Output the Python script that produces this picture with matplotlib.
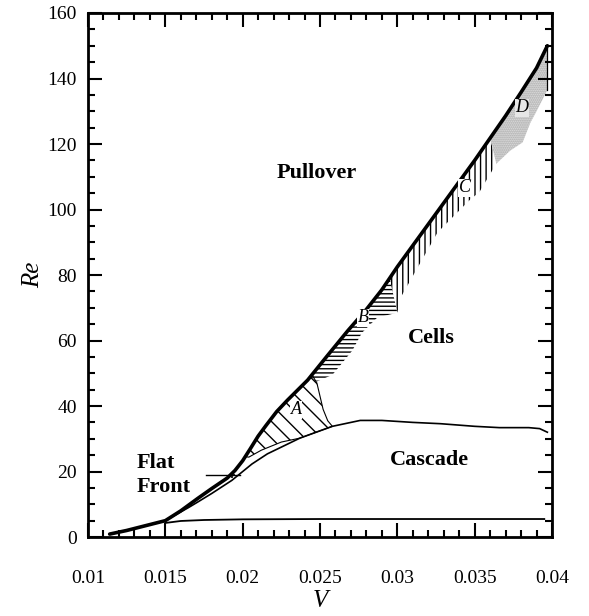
import numpy as np
import matplotlib
matplotlib.use('Agg')
from matplotlib import pyplot as plt
from matplotlib.patches import Polygon
from matplotlib.ticker import MultipleLocator

plt.rcParams['font.family'] = 'Liberation Serif'
plt.rcParams['hatch.linewidth'] = 1.0

# pullover boundary (thick line)
v_up = [0.0114, 0.0125, 0.0135, 0.0150, 0.0160, 0.0171, 0.0180, 0.0190, 0.0195, 0.0200,
        0.0205, 0.0210, 0.0215, 0.0222, 0.0229, 0.0242, 0.0255, 0.0268, 0.0280, 0.0290,
        0.0300, 0.0310, 0.0320, 0.0330, 0.0340, 0.0350, 0.0360, 0.0370, 0.0380, 0.0390,
        0.0397]
re_up = [0.9, 2.0, 3.2, 5.0, 8.0, 11.8, 14.8, 18.0, 20.3, 23.3,
         27.0, 30.8, 34.0, 38.3, 41.8, 47.9, 55.5, 63.0, 69.5, 75.5,
         82.5, 89.0, 95.5, 102.0, 108.5, 115.0, 121.8, 128.6, 135.8, 143.2,
         150.0]

# cascade / cells boundary
v_casc = [0.0150, 0.0165, 0.0171, 0.0180, 0.0193, 0.0206, 0.0216, 0.0237, 0.0258, 0.0276,
          0.0290, 0.0310, 0.0328, 0.0350, 0.0366, 0.0385, 0.0392, 0.0397]
re_casc = [5.0, 9.0, 10.7, 13.3, 17.3, 22.3, 25.4, 30.2, 33.8, 35.6,
           35.6, 35.0, 34.6, 33.8, 33.4, 33.4, 33.1, 32.0]

# lower flat boundary
v_low = [0.0150, 0.0160, 0.0175, 0.0200, 0.0250, 0.0300, 0.0350, 0.0395]
re_low = [4.3, 4.9, 5.2, 5.4, 5.5, 5.5, 5.5, 5.5]

# regions A-D (outline points)
v_A = [0.0202, 0.0205, 0.0210, 0.0215, 0.0222, 0.0229, 0.0245, 0.0248, 0.0250, 0.0252,
       0.0255, 0.0258, 0.0237, 0.0225, 0.0212, 0.0204]
re_A = [24.5, 27.0, 30.8, 34.0, 38.3, 41.8, 49.4, 47.0, 43.0, 39.0,
        35.5, 33.8, 30.2, 29.0, 26.5, 24.4]

v_B = [0.0243, 0.0255, 0.0268, 0.0280, 0.0290, 0.0295, 0.0300, 0.0287, 0.0277, 0.0271,
       0.0258, 0.0248]
re_B = [48.4, 55.5, 63.0, 69.5, 75.5, 79.0, 68.5, 67.0, 62.3, 57.0,
        49.5, 47.5]

v_C = [0.0295, 0.0300, 0.0310, 0.0320, 0.0330, 0.0340, 0.0350, 0.0360, 0.0364, 0.0353,
       0.0347, 0.0326, 0.0302, 0.0300]
re_C = [79.0, 82.5, 89.0, 95.5, 102.0, 108.5, 115.0, 121.8, 114.0, 105.3,
        103.0, 93.0, 73.0, 68.5]

v_D = [0.0360, 0.0370, 0.0380, 0.0390, 0.0397, 0.0397, 0.0390, 0.0386, 0.0381, 0.0373,
       0.0364]
re_D = [121.8, 128.6, 135.8, 143.2, 150.0, 136.5, 130.0, 126.5, 120.5, 118.0,
        114.0]

fig = plt.figure(figsize=(5.89, 6.16), dpi=100)
ax = fig.add_axes([0.1494, 0.1282, 0.7878, 0.8507])

ax.add_patch(Polygon(np.column_stack([v_A, re_A]), closed=True, facecolor='none',
                     edgecolor='black', hatch='\\\\', lw=0.8))
ax.add_patch(Polygon(np.column_stack([v_B, re_B]), closed=True, facecolor='none',
                     edgecolor='black', hatch='----', lw=0))
ax.add_patch(Polygon(np.column_stack([v_C, re_C]), closed=True, facecolor='none',
                     edgecolor='black', hatch='|||', lw=0))
ax.add_patch(Polygon(np.column_stack([v_D, re_D]), closed=True, facecolor='#e6e6e6',
                     edgecolor='#a0a0a0', hatch='........', lw=0))
ax.plot(v_D[4:6], re_D[4:6], c='black', lw=0.9)

ax.plot(v_casc, re_casc, c='black', lw=1.2)
ax.plot(v_low, re_low, c='black', lw=1.3)
ax.plot(v_up, re_up, c='black', lw=2.6, solid_capstyle='round')

# flat front pointer
ax.plot([0.01763, 0.01983], [19.0, 19.0], c='black', lw=1.0)
ax.plot([0.0193], [19.0], marker='+', c='black', ms=5, mew=1.2)

lab = dict(fontsize=16, fontweight='bold', ha='center', va='center')
ax.text(0.0248, 111, 'Pullover', **lab)
ax.text(0.0322, 60.8, 'Cells', **lab)
ax.text(0.0321, 23.5, 'Cascade', **lab)
ax.text(0.01315, 19.0, 'Flat\nFront', fontsize=16, fontweight='bold', ha='left',
        va='center', linespacing=1.3)

box = dict(facecolor='white', edgecolor='none', pad=0.5)
ax.text(0.02345, 38.8, 'A', style='italic', fontsize=13, ha='center', va='center', bbox=box)
ax.text(0.02778, 66.9, 'B', style='italic', fontsize=13, ha='center', va='center', bbox=box)
ax.text(0.03437, 106.6, 'C', style='italic', fontsize=13, ha='center', va='center', bbox=box)
ax.text(0.03806, 131.0, 'D', style='italic', fontsize=13, ha='center', va='center',
        bbox=dict(facecolor='#e6e6e6', edgecolor='none', pad=0.5))

ax.set_xlim(0.01, 0.04)
ax.set_ylim(0, 160)
ax.xaxis.set_minor_locator(MultipleLocator(0.001))
ax.yaxis.set_major_locator(MultipleLocator(20))
ax.yaxis.set_minor_locator(MultipleLocator(5))
ax.set_xticks([0.01, 0.015, 0.02, 0.025, 0.03, 0.035, 0.04])
ax.set_xticklabels(['0.01', '0.015', '0.02', '0.025', '0.03', '0.035', '0.04'])
ax.tick_params(which='both', direction='in', top=True, right=True, labelsize=14, width=1.5)
ax.tick_params(which='major', length=10)
ax.tick_params(which='minor', length=5)
ax.tick_params(axis='x', which='major', pad=24)
ax.tick_params(axis='y', which='major', pad=8)
for s in ax.spines.values():
    s.set_linewidth(2)

ax.set_xlabel('V', fontsize=18, style='italic', labelpad=2)
ax.set_ylabel('Re', fontsize=18, style='italic', labelpad=2)

fig.savefig('out.png', dpi=100)
